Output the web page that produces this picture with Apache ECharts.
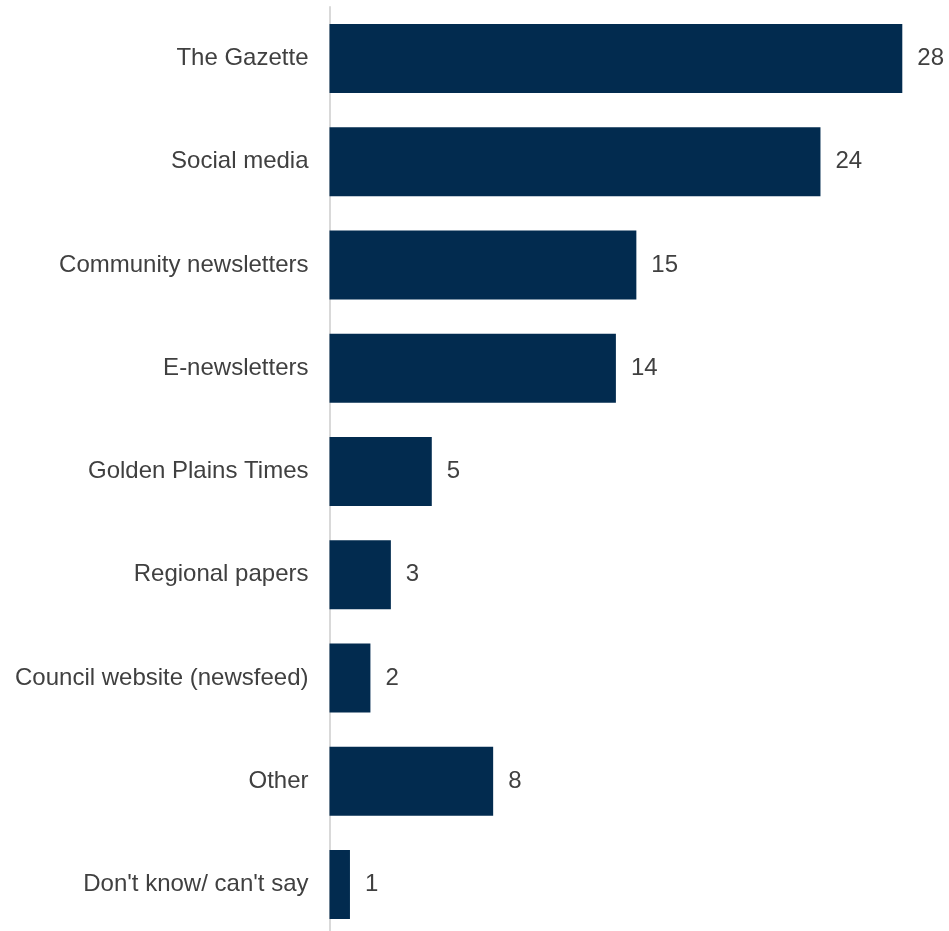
<!DOCTYPE html>
<html>
<head>
<meta charset="utf-8">
<script src="https://cdn.jsdelivr.net/npm/echarts@6/dist/echarts.min.js"></script>
<style>
  html, body { margin: 0; padding: 0; background: #ffffff; overflow: hidden; }
  #chart { width: 949px; height: 940px; }
</style>
</head>
<body>
<div id="chart"></div>
<script>
// Sources of council news (listed top to bottom)
const categories = [
  'The Gazette',
  'Social media',
  'Community newsletters',
  'E-newsletters',
  'Golden Plains Times',
  'Regional papers',
  'Council website (newsfeed)',
  'Other',
  "Don't know/ can't say"
];
const values = [28, 24, 15, 14, 5, 3, 2, 8, 1];

const chart = echarts.init(document.getElementById('chart'), null, { renderer: 'canvas' });

chart.setOption({
  animation: false,
  backgroundColor: '#ffffff',
  grid: { left: 329.5, right: 46.7, top: 7, height: 929, containLabel: false },
  xAxis: {
    type: 'value',
    min: 0,
    max: 28,
    show: false
  },
  yAxis: {
    type: 'category',
    inverse: true,
    data: categories,
    axisLine: { show: true, lineStyle: { color: '#d9d9d9', width: 2 } },
    axisTick: { show: false },
    axisLabel: {
      margin: 21,
      color: '#404040',
      fontSize: 24,
      fontFamily: '"Liberation Sans", Arial, sans-serif'
    }
  },
  series: [{
    type: 'bar',
    data: values,
    barWidth: 69,
    itemStyle: { color: '#022b4f' },
    label: {
      show: true,
      position: 'right',
      distance: 15,
      color: '#404040',
      fontSize: 24,
      fontFamily: '"Liberation Sans", Arial, sans-serif'
    }
  }]
});
</script>
</body>
</html>
